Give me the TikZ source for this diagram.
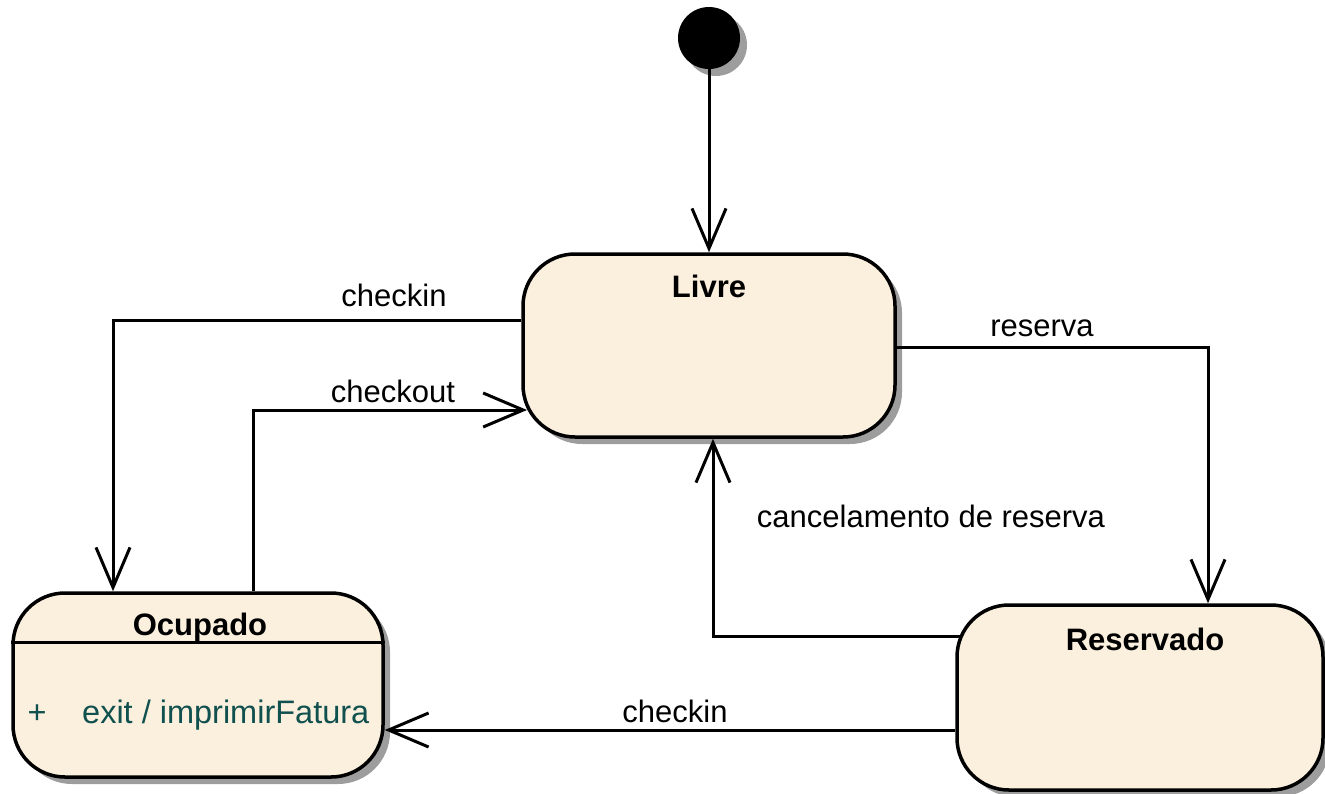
\documentclass[tikz,border=0pt]{standalone}
\usepackage{fontspec}
\setmainfont{Liberation Sans}
\usetikzlibrary{arrows.meta,shadows}
\definecolor{statefill}{RGB}{251,240,222}
\definecolor{actcol}{RGB}{16,80,78}
\begin{document}
\begin{tikzpicture}[x=1pt,y=-1pt,
  shad/.style={drop shadow={shadow xshift=7pt,shadow yshift=-7pt,fill=black!55,opacity=0.7}},
  state/.style={draw=black,line width=3.5pt,fill=statefill,rounded corners=52pt,inner sep=0pt,shad},
  lbl/.style={font=\fontsize{31}{37}\selectfont,anchor=base,inner sep=0pt},
  ttl/.style={font=\fontsize{31}{37}\selectfont\bfseries,anchor=base,inner sep=0pt},
  trans/.style={draw=black,line width=3pt,-{Straight Barb[length=40pt,width=34pt]}}]
\useasboundingbox (0,0) rectangle (1325,793);
% states
\node[state,minimum width=372pt,minimum height=183pt] (livre) at (709,345.5) {};
\node[state,minimum width=370pt,minimum height=184pt] (ocup) at (198,685) {};
\node[state,minimum width=366pt,minimum height=185pt] (resv) at (1140,697.5) {};
\node[circle,fill=black,minimum size=62pt,inner sep=0pt,shad] (start) at (709,38) {};
% titles
\node[ttl] (livreT) at (709,297) {Livre};
\node[ttl] (ocupT) at (200,635) {Ocupado};
\node[ttl] (resvT) at (1145,650) {Reservado};
\draw[line width=3pt] (ocup.west |- 0,642) -- (ocup.east |- 0,642);
\node[lbl,text=actcol,font=\fontsize{32.5}{38}\selectfont] (plus) at (37,723) {+};
\node[lbl,text=actcol,anchor=base west,font=\fontsize{32.5}{38}\selectfont] (exitT) at (82,723) {exit / imprimirFatura};
% transitions
\draw[trans] (start.south) -- (livre.north);
\draw[trans] (livre.west |- 0,320) -| (ocup.north -| 113,0);
\draw[trans] (ocup.north -| 253,0) |- (527,410);
\draw[trans] (livre.east |- 0,347) -| (resv.north -| 1208,0);
\draw[trans] (960,636) -| (livre.south -| 713,0);
\draw[trans] (resv.west |- 0,730) -- (ocup.east |- 0,730);
% labels
\node[lbl] (l1) at (394,306) {checkin};
\node[lbl] (l2) at (393,402) {checkout};
\node[lbl] (l3) at (1042,336) {reserva};
\node[lbl] (l4) at (931,527) {cancelamento de reserva};
\node[lbl] (l5) at (675,722) {checkin};
\end{tikzpicture}
\end{document}
